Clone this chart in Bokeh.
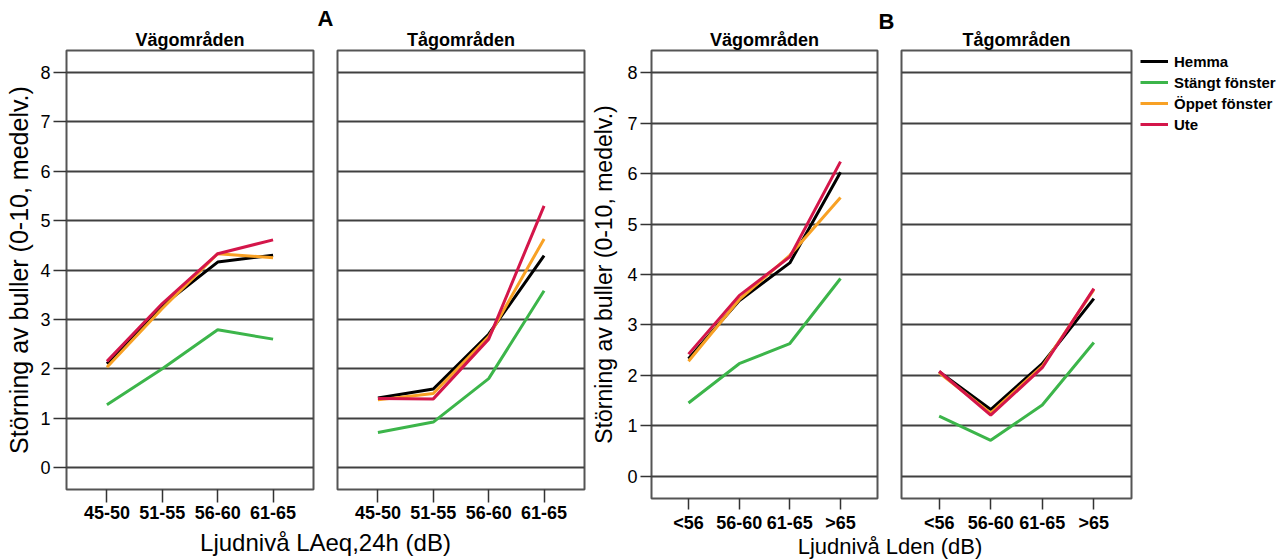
from bokeh.plotting import figure
from bokeh.layouts import row, column
from bokeh.models import FactorRange, Range1d, FixedTicker, Label, Legend, LegendItem, Title
from bokeh.embed import file_html
from bokeh.resources import INLINE

FONT = "Liberation Sans"

# ---------------- data ----------------
cats_A = ["45-50", "51-55", "56-60", "61-65"]
cats_B = ["<56", "56-60", "61-65", ">65"]
series_names = ["Hemma", "Stängt fönster", "Öppet fönster", "Ute"]
series_colors = ["#000000", "#3cb54a", "#f8a125", "#d4164a"]
y_ticks = [0, 1, 2, 3, 4, 5, 6, 7, 8]

A_vag_hemma = [2.10, 3.28, 4.16, 4.30]
A_vag_stangt = [1.27, 2.00, 2.79, 2.60]
A_vag_oppet = [2.03, 3.22, 4.33, 4.25]
A_vag_ute = [2.15, 3.32, 4.33, 4.61]

A_tag_hemma = [1.41, 1.59, 2.70, 4.29]
A_tag_stangt = [0.71, 0.92, 1.80, 3.58]
A_tag_oppet = [1.37, 1.50, 2.65, 4.63]
A_tag_ute = [1.40, 1.39, 2.60, 5.30]

B_vag_hemma = [2.33, 3.48, 4.23, 6.03]
B_vag_stangt = [1.45, 2.23, 2.63, 3.92]
B_vag_oppet = [2.28, 3.50, 4.38, 5.53]
B_vag_ute = [2.42, 3.58, 4.35, 6.24]

B_tag_hemma = [2.07, 1.32, 2.23, 3.52]
B_tag_stangt = [1.19, 0.71, 1.41, 2.65]
B_tag_oppet = [2.05, 1.25, 2.18, 3.70]
B_tag_ute = [2.08, 1.21, 2.15, 3.72]

y_title = "Störning av buller (0-10, medelv.)"


def panel(cats, series, title, left, right, top, bottom, fw, fh,
          show_y, tick_out, ylab_size, ylab_standoff, tag=None, tag_offset=0, tag_standoff=0):
    p = figure(width=left + fw + right, height=top + fh + bottom,
               x_range=FactorRange(factors=cats, range_padding=0.115),
               y_range=Range1d(-0.445, 8.445),
               min_border_left=left, min_border_right=right,
               min_border_top=top, min_border_bottom=bottom,
               toolbar_location=None, output_backend="svg")
    p.add_layout(Title(text=title, align="center", standoff=2, text_font=FONT,
                       text_font_size="18px", text_font_style="bold",
                       text_color="#000000"), "above")
    if tag:
        p.add_layout(Title(text=tag, align="right", offset=tag_offset, standoff=tag_standoff,
                           text_font=FONT, text_font_size="22px",
                           text_font_style="bold", text_color="#000000"), "above")
    p.outline_line_color = "#555555"
    p.outline_line_width = 2
    p.xgrid.visible = False
    p.ygrid.ticker = FixedTicker(ticks=y_ticks)
    p.ygrid.grid_line_color = "#404040"
    p.ygrid.grid_line_width = 2
    p.yaxis.ticker = FixedTicker(ticks=y_ticks)
    p.yaxis.axis_line_color = None
    p.yaxis.major_tick_out = tick_out
    p.yaxis.major_tick_in = 0
    p.yaxis.minor_tick_line_color = None
    p.yaxis.major_tick_line_color = "#333333"
    p.yaxis.major_tick_line_width = 1.5
    p.yaxis.major_label_text_font = FONT
    p.yaxis.major_label_text_font_size = "18px"
    p.yaxis.major_label_text_color = "#000000"
    p.yaxis.major_label_standoff = 3
    p.yaxis.axis_label = y_title
    p.yaxis.axis_label_text_font = FONT
    p.yaxis.axis_label_text_font_size = ylab_size
    p.yaxis.axis_label_text_font_style = "normal"
    p.yaxis.axis_label_text_color = "#000000"
    p.yaxis.axis_label_standoff = ylab_standoff
    if not show_y:
        p.yaxis.visible = False
    p.xaxis.axis_line_color = None
    p.xaxis.major_tick_out = tick_out
    p.xaxis.major_tick_in = 0
    p.xaxis.major_tick_line_color = "#333333"
    p.xaxis.major_tick_line_width = 1.5
    p.xaxis.major_label_text_font = FONT
    p.xaxis.major_label_text_font_size = "18px"
    p.xaxis.major_label_text_font_style = "bold"
    p.xaxis.major_label_text_color = "#000000"
    p.xaxis.major_label_standoff = 3
    for vals, color in zip(series, series_colors):
        p.line(x=cats, y=vals, line_color=color, line_width=3)
    return p


def blank_fig(w, h):
    p = figure(width=w, height=h, x_range=Range1d(0, w), y_range=Range1d(0, h),
               min_border=0, toolbar_location=None, output_backend="svg",
               x_axis_location=None, y_axis_location=None)
    p.outline_line_color = None
    p.grid.visible = False
    return p


def label_fig(w, h, text, cx, cy, size):
    p = blank_fig(w, h)
    p.add_layout(Label(x=cx, y=cy, text=text, text_align="center",
                       text_baseline="middle", text_font=FONT,
                       text_font_size=size, text_color="#000000"))
    return p


f1 = panel(cats_A, [A_vag_hemma, A_vag_stangt, A_vag_oppet, A_vag_ute],
           "Vägområden", 66, 23, 50, 40, 247, 439, True, 13, "25px", 4,
           tag="A", tag_offset=-20, tag_standoff=-9)
f2 = panel(cats_A, [A_tag_hemma, A_tag_stangt, A_tag_oppet, A_tag_ute],
           "Tågområden", 1, 4, 50, 40, 247, 439, False, 13, "25px", 4)
f3 = panel(cats_B, [B_vag_hemma, B_vag_stangt, B_vag_oppet, B_vag_ute],
           "Vägområden", 59, 21, 50, 36, 230, 449, True, 11, "23px", 7,
           tag="B", tag_offset=-17, tag_standoff=-15)
f4 = panel(cats_B, [B_tag_hemma, B_tag_stangt, B_tag_oppet, B_tag_ute],
           "Tågområden", 3, 4, 50, 36, 230, 449, False, 11, "23px", 7)

# legend panel: proxy renderers (no visible points) carry the series styles
NAN = float("nan")
legF = blank_fig(146, 535)
proxies = [legF.line(x=[NAN], y=[NAN], line_color=c, line_width=3) for c in series_colors]
legend = Legend(items=[LegendItem(label=n, renderers=[r]) for n, r in zip(series_names, proxies)],
                location=(5, 364), glyph_width=28, glyph_height=20, label_height=20,
                spacing=1, padding=0, margin=0, label_standoff=6,
                border_line_color=None, background_fill_alpha=0,
                label_text_font=FONT, label_text_font_size="15px",
                label_text_font_style="bold", label_text_color="#000000")
legF.add_layout(legend)

labA = label_fig(588, 30, "Ljudnivå LAeq,24h (dB)", 325, 17, "24px")
labB = label_fig(693, 24, "Ljudnivå Lden (dB)", 301.5, 13, "22px")

layout = row(column(row(f1, f2), labA), column(row(f3, f4, legF), labB))

open("out.html", "w").write(file_html(layout, INLINE))
